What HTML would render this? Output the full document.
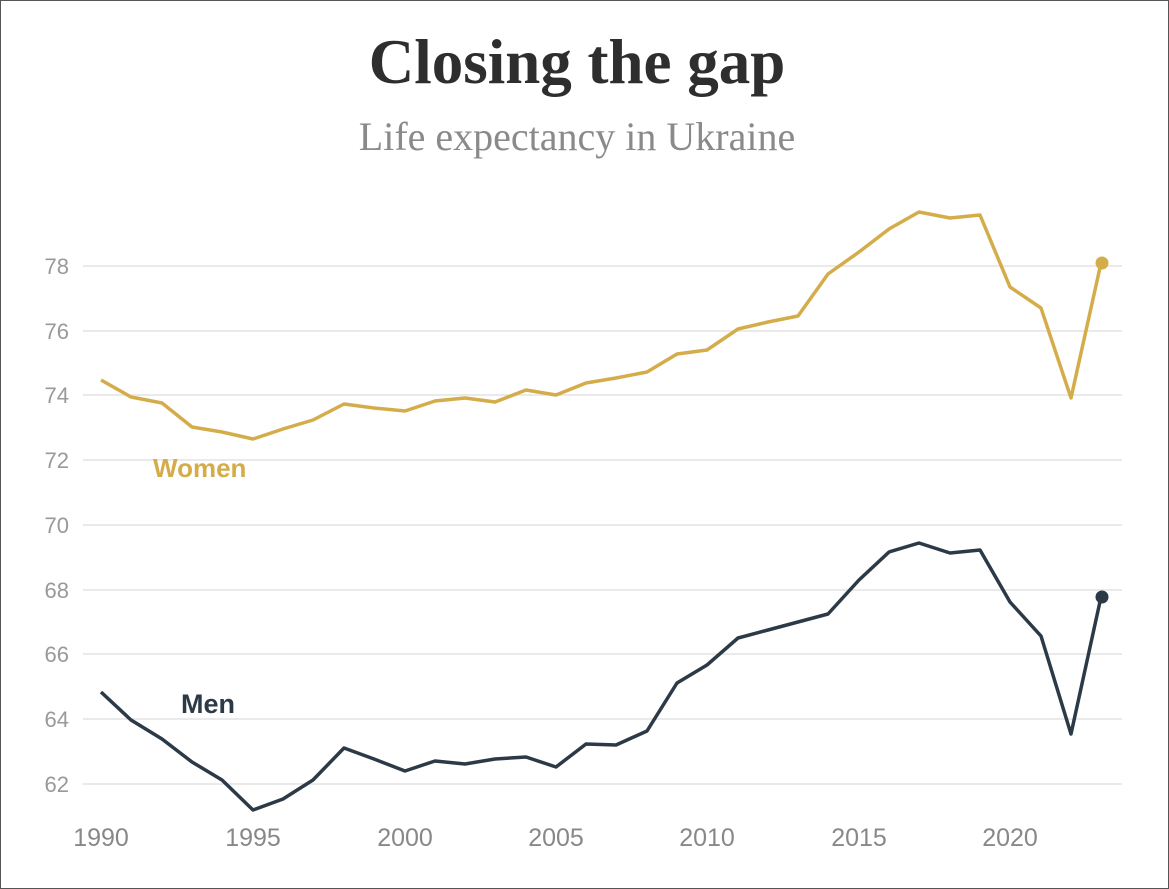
<!DOCTYPE html>
<html><head><style>
body{margin:0;background:#fff;}
svg{display:block;}
</style></head><body>
<svg width="1169" height="889" xmlns="http://www.w3.org/2000/svg">
<rect x="0.5" y="0.5" width="1168" height="888" fill="#fff" stroke="#555" stroke-width="1"/>
<text x="577" y="83" text-anchor="middle" font-family="Liberation Serif, serif" font-weight="bold" font-size="63" fill="#2e2e2e">Closing the gap</text>
<text x="577" y="150" text-anchor="middle" font-family="Liberation Serif, serif" font-size="40" fill="#8a8a8a">Life expectancy in Ukraine</text>
<g stroke="#e4e4e4" stroke-width="1.5">
<line x1="83" x2="1122" y1="266" y2="266"/>
<line x1="83" x2="1122" y1="331" y2="331"/>
<line x1="83" x2="1122" y1="395" y2="395"/>
<line x1="83" x2="1122" y1="460" y2="460"/>
<line x1="83" x2="1122" y1="525" y2="525"/>
<line x1="83" x2="1122" y1="590" y2="590"/>
<line x1="83" x2="1122" y1="654" y2="654"/>
<line x1="83" x2="1122" y1="719" y2="719"/>
<line x1="83" x2="1122" y1="784" y2="784"/>
</g>
<g font-family="Liberation Sans, sans-serif" font-size="22" fill="#999" text-anchor="end">
<text x="69" y="274">78</text><text x="69" y="339">76</text><text x="69" y="403">74</text>
<text x="69" y="468">72</text><text x="69" y="533">70</text><text x="69" y="598">68</text>
<text x="69" y="662">66</text><text x="69" y="727">64</text><text x="69" y="792">62</text>
</g>
<g font-family="Liberation Sans, sans-serif" font-size="25" fill="#888" text-anchor="middle">
<text x="101" y="846">1990</text><text x="253" y="846">1995</text><text x="405" y="846">2000</text>
<text x="556" y="846">2005</text><text x="707" y="846">2010</text><text x="859" y="846">2015</text>
<text x="1010" y="846">2020</text>
</g>
<polyline fill="none" stroke="#d4ad4a" stroke-width="3.5" stroke-linejoin="round" points="101,380 131,397 162,403 192,427 222,432 253,439 283,429 313,420 344,404 374,408 405,411 435,401 465,398 495,402 526,390 556,395 586,383 616,378 647,372 677,354 707,350 738,329 768,322 798,316 828,274 859,252 889,229 919,212 950,218 980,215 1010,287 1041,308 1071,398 1101,263"/>
<circle cx="1102" cy="263" r="6.5" fill="#d4ad4a"/>
<polyline fill="none" stroke="#2c3a47" stroke-width="3.5" stroke-linejoin="round" points="101,692 131,720 162,739 192,762 222,780 253,810 283,799 313,780 344,748 374,759 405,771 435,761 465,764 495,759 526,757 556,767 586,744 616,745 647,731 677,683 707,665 738,638 768,630 798,622 828,614 859,580 889,552 919,543 950,553 980,550 1010,602 1041,636 1071,734 1101,597"/>
<circle cx="1102" cy="597" r="6.5" fill="#2c3a47"/>
<text x="153" y="477" font-family="Liberation Sans, sans-serif" font-weight="bold" font-size="26" fill="#d4ad4a">Women</text>
<text x="181" y="713" font-family="Liberation Sans, sans-serif" font-weight="bold" font-size="27" fill="#2c3a47">Men</text>
</svg>
</body></html>
